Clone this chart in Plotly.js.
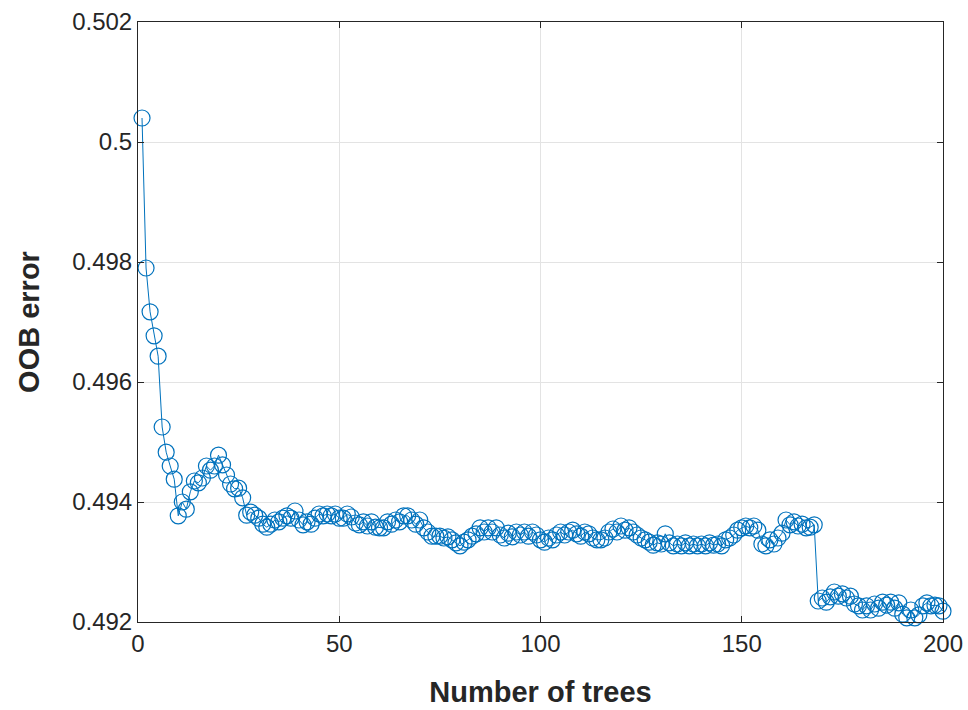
<!DOCTYPE html>
<html>
<head>
<meta charset="utf-8">
<script src="https://cdn.plot.ly/plotly-3.0.1.min.js"></script>
<style>html,body{margin:0;padding:0;background:#fff;}#chart{width:968px;height:710px;}</style>
</head>
<body>
<div id="chart"></div>
<script>
var oobError = [
0.5004,0.4979,0.49717,0.49677,0.49643,0.49525,0.49483,0.4946,0.49438,0.49377,
0.494,0.49388,0.49417,0.49435,0.49432,0.4944,0.4946,0.49453,0.4946,0.49478,
0.49462,0.49445,0.4943,0.49422,0.49423,0.49407,0.49378,0.49383,0.49378,0.49373,
0.49363,0.49358,0.49363,0.4937,0.49367,0.49373,0.49377,0.49373,0.49385,0.4937,
0.49362,0.49367,0.49363,0.49373,0.4938,0.49377,0.4938,0.49377,0.4938,0.49373,
0.49373,0.4938,0.49375,0.49365,0.49362,0.49367,0.4936,0.49367,0.49358,0.49357,
0.49357,0.49367,0.49363,0.4937,0.49367,0.49377,0.49377,0.4937,0.49363,0.4937,
0.49357,0.4935,0.49343,0.49343,0.49343,0.4934,0.49342,0.49337,0.49332,0.49327,
0.49333,0.49337,0.49343,0.49347,0.49357,0.4935,0.49357,0.4935,0.49357,0.49345,
0.4934,0.49348,0.49342,0.4935,0.49345,0.4935,0.49343,0.4935,0.49345,0.49337,
0.49333,0.4934,0.49337,0.49345,0.4935,0.49345,0.4935,0.49353,0.49347,0.49343,
0.4935,0.49347,0.4934,0.49337,0.49337,0.4934,0.4935,0.49355,0.4935,0.4936,
0.49353,0.49357,0.4935,0.49345,0.4934,0.49337,0.49333,0.49328,0.49332,0.4933,
0.49347,0.49332,0.49327,0.4933,0.49327,0.49332,0.49327,0.4933,0.49327,0.4933,
0.49327,0.49332,0.49328,0.4933,0.49327,0.49337,0.4934,0.49345,0.49353,0.49357,
0.4936,0.49357,0.4936,0.49353,0.4933,0.49327,0.49337,0.4933,0.4934,0.49348,
0.4937,0.49362,0.49367,0.4936,0.49363,0.49357,0.49358,0.49362,0.49235,0.4924,
0.49233,0.49242,0.4925,0.49243,0.49247,0.4924,0.49243,0.4923,0.49227,0.4922,
0.49227,0.4922,0.4923,0.49223,0.49233,0.49228,0.49233,0.49223,0.49232,0.49213,
0.49207,0.4922,0.49207,0.49212,0.49227,0.49232,0.49227,0.49228,0.49227,0.49218
];
var numTrees = oobError.map(function(_, i){ return i + 1; });
var xTickVals = [0, 50, 100, 150, 200];
var xTickText = ['0', '50', '100', '150', '200'];
var yTickVals = [0.492, 0.494, 0.496, 0.498, 0.5, 0.502];
var yTickText = ['0.492', '0.494', '0.496', '0.498', '0.5', '0.502'];

var trace = {
  x: numTrees, y: oobError, type: 'scatter', mode: 'lines+markers',
  line: {color: '#0072BD', width: 1},
  marker: {symbol: 'circle-open', size: 16, color: '#0072BD', line: {width: 1.2, color: '#0072BD'}},
  hoverinfo: 'skip', cliponaxis: false
};
var axisCommon = {
  showline: true, mirror: 'ticks', linecolor: '#262626', linewidth: 1,
  ticks: 'inside', ticklen: 6, tickcolor: '#262626',
  showgrid: true, gridcolor: '#e3e3e3', gridwidth: 1, zeroline: false,
  tickfont: {family: 'Liberation Sans, Arial, sans-serif', size: 24, color: '#262626'}
};
var layout = {
  width: 968, height: 710,
  margin: {l: 138, r: 25, t: 22, b: 88},
  paper_bgcolor: '#ffffff', plot_bgcolor: '#ffffff',
  showlegend: false,
  xaxis: Object.assign({}, axisCommon, {
    range: [0, 200], tickmode: 'array', tickvals: xTickVals, ticktext: xTickText,
    title: {text: '<b>Number of trees</b>', standoff: 25,
      font: {family: 'Liberation Sans, Arial, sans-serif', size: 29, color: '#262626'}}
  }),
  yaxis: Object.assign({}, axisCommon, {
    range: [0.492, 0.502], tickmode: 'array', tickvals: yTickVals, ticktext: yTickText,
    title: {text: '<b>OOB error</b>', standoff: 23,
      font: {family: 'Liberation Sans, Arial, sans-serif', size: 29, color: '#262626'}}
  })
};
Plotly.newPlot('chart', [trace], layout, {displayModeBar: false, staticPlot: true});
</script>
</body>
</html>
